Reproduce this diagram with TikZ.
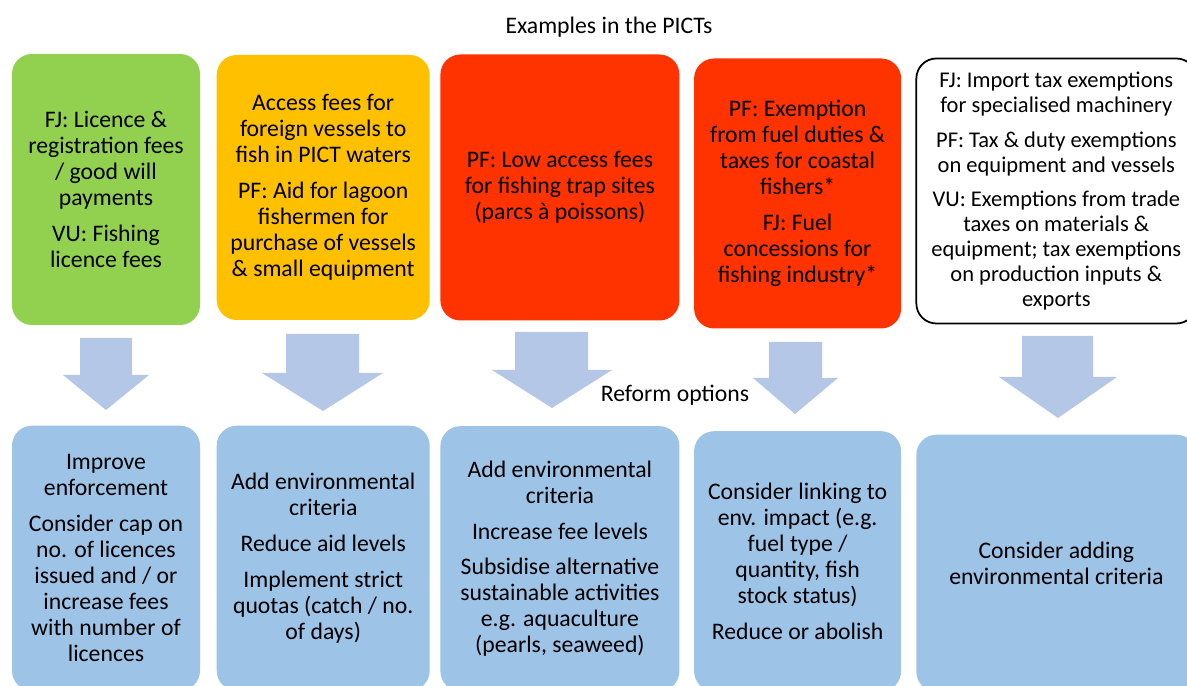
\documentclass[tikz,border=0pt]{standalone}
\usepackage{fontspec}
\setmainfont{Carlito}
\usetikzlibrary{positioning}

\definecolor{exgreen}{HTML}{92D050}
\definecolor{exorange}{HTML}{FFC000}
\definecolor{exred}{HTML}{FF3300}
\definecolor{optblue}{HTML}{9DC3E6}
\definecolor{flowblue}{HTML}{B4C7E7}

\begin{document}
\begin{tikzpicture}[
      node distance=2cm,
      card/.style={rectangle,rounded corners=0.4cm,align=center,inner sep=2pt,
        font=\fontsize{13.5pt}{14.8pt}\selectfont},
      example/.style={card,minimum height=5.3cm},
      option/.style={card,fill=optblue},
      flow/.style={fill=flowblue},
      caption/.style={font=\fontsize{13.5pt}{16pt}\selectfont}
    ]
    \path[use as bounding box,clip] (0,0) rectangle (23.74,13.72);

    % Examples in the PICTs
    \node[caption] (title) at (12.18,13.18) {Examples in the PICTs};

    \node[example,fill=exgreen,minimum width=3.76cm,minimum height=5.42cm] (E1) at (2.12,9.93)
      {FJ: Licence \&\\registration fees\\/ good will\\payments\\[5.5pt]VU: Fishing\\licence fees};
    \node[example,fill=exorange,minimum width=4.26cm,right=0.32cm of E1,yshift=0.04cm] (E2)
      {Access fees for\\foreign vessels to\\fish in PICT waters\\[5.5pt]PF: Aid for lagoon\\fishermen for\\purchase of vessels\\\& small equipment};
    \node[example,fill=exred,minimum width=4.78cm,minimum height=5.32cm,right=0.20cm of E2] (E3)
      {PF: Low access fees\\for fishing trap sites\\(parcs à poissons)};
    \node[example,fill=exred,minimum width=4.14cm,minimum height=5.40cm,right=0.28cm of E3,yshift=-0.12cm] (E4)
      {PF: Exemption\\from fuel duties \&\\taxes for coastal\\fishers*\\[5.5pt]FJ: Fuel\\concessions for\\fishing industry*};
    \node[example,draw,line width=1pt,fill=white,minimum width=5.6cm,right=0.28cm of E4,yshift=0.05cm,
      font=\fontsize{12.8pt}{14.2pt}\selectfont] (E5)
      {FJ: Import tax exemptions\\for specialised machinery\\[5.5pt]PF: Tax \& duty exemptions\\on equipment and vessels\\[5.5pt]VU: Exemptions from trade\\taxes on materials \&\\equipment; tax exemptions\\on production inputs \&\\exports};

    % Block arrows down
    \fill[flow] (1.60,6.96) -- (2.64,6.96) -- (2.64,6.22) -- (2.98,6.22) -- (2.12,5.52) -- (1.26,6.22) -- (1.60,6.22) -- cycle;
    \fill[flow] (5.72,7.04) -- (7.18,7.04) -- (7.18,6.26) -- (7.66,6.26) -- (6.46,5.50) -- (5.24,6.26) -- (5.72,6.26) -- cycle;
    \fill[flow] (10.30,7.08) -- (11.76,7.08) -- (11.76,6.32) -- (12.24,6.32) -- (11.04,5.56) -- (9.84,6.32) -- (10.30,6.32) -- cycle;
    \fill[flow] (15.38,6.88) -- (16.44,6.88) -- (16.44,6.16) -- (16.76,6.16) -- (15.90,5.44) -- (15.06,6.16) -- (15.38,6.16) -- cycle;
    \fill[flow] (20.44,7.00) -- (21.86,7.00) -- (21.86,6.18) -- (22.34,6.18) -- (21.16,5.36) -- (19.98,6.18) -- (20.44,6.18) -- cycle;

    % Reform options
    \node[caption] (reform) at (13.50,5.82) {Reform options};

    \node[option,minimum width=3.76cm,minimum height=5.30cm,below=2.00cm of E1] (F1)
      {Improve\\enforcement\\[5.5pt]Consider cap on\\no. of licences\\issued and / or\\increase fees\\with number of\\licences};
    \node[option,minimum width=4.26cm,minimum height=5.30cm,below=2.10cm of E2] (F2)
      {Add environmental\\criteria\\[5.5pt]Reduce aid levels\\[5.5pt]Implement strict\\quotas (catch / no.\\of days)};
    \node[option,minimum width=4.78cm,minimum height=5.30cm,below=2.10cm of E3] (F3)
      {Add environmental\\criteria\\[5.5pt]Increase fee levels\\[5.5pt]Subsidise alternative\\sustainable activities\\e.g. aquaculture\\(pearls, seaweed)};
    \node[option,minimum width=4.14cm,minimum height=5.20cm,below=2.04cm of E4] (F4)
      {Consider linking to\\env. impact (e.g.\\fuel type /\\quantity, fish\\stock status)\\[5.5pt]Reduce or abolish};
    \node[option,minimum width=5.6cm,minimum height=5.14cm,below=2.20cm of E5] (F5)
      {Consider adding\\environmental criteria};

  \end{tikzpicture}
\end{document}
